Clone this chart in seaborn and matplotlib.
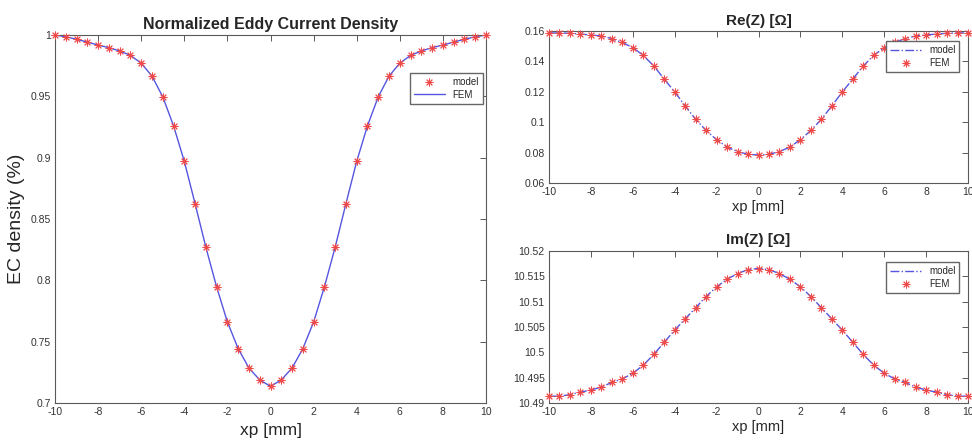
import numpy as np
import pandas as pd
import matplotlib
matplotlib.use("Agg")
import matplotlib.pyplot as plt
from matplotlib.ticker import FuncFormatter
import seaborn as sns

# ---------------- data ----------------
xp = [-10, -9.5, -9, -8.5, -8, -7.5, -7, -6.5, -6, -5.5, -5, -4.5, -4, -3.5, -3, -2.5, -2, -1.5, -1, -0.5,
      0, 0.5, 1, 1.5, 2, 2.5, 3, 3.5, 4, 4.5, 5, 5.5, 6, 6.5, 7, 7.5, 8, 8.5, 9, 9.5, 10]

ec_half = [1.0, 0.9986, 0.9965, 0.9943, 0.9918, 0.9897, 0.987, 0.9834, 0.977, 0.9665, 0.9496,
           0.926, 0.897, 0.8625, 0.827, 0.7946, 0.766, 0.7443, 0.7285, 0.7188]
ec_center = [0.7136]
ec_density = ec_half + ec_center + ec_half[::-1]

re_half = [0.1587, 0.1587, 0.1585, 0.158, 0.1574, 0.1567, 0.155, 0.1525, 0.149, 0.144, 0.137,
           0.1284, 0.1199, 0.1107, 0.1019, 0.0946, 0.0885, 0.0837, 0.0806, 0.0789]
re_center = [0.0784]
re_z = re_half + re_center + re_half[::-1]

im_half = [10.4914, 10.4914, 10.4917, 10.4922, 10.4926, 10.4932, 10.4941, 10.4948, 10.4959, 10.4975,
           10.4996, 10.502, 10.5044, 10.5066, 10.5088, 10.511, 10.5129, 10.5144, 10.5155, 10.5163]
im_center = [10.5165]
im_z = im_half + im_center + im_half[::-1]

xticks = [-10, -8, -6, -4, -2, 0, 2, 4, 6, 8, 10]
ec_ticks = [0.7, 0.75, 0.8, 0.85, 0.9, 0.95, 1.0]
re_ticks = [0.06, 0.08, 0.1, 0.12, 0.14, 0.16]
im_ticks = [10.49, 10.495, 10.5, 10.505, 10.51, 10.515, 10.52]

df = pd.DataFrame({"xp": xp, "ec": ec_density, "re": re_z, "im": im_z})

# ---------------- style ----------------
sns.set_style("white")
plt.rcParams["font.family"] = ["Liberation Sans", "DejaVu Sans"]

LINE_C = "#5555e0"
MARK_C = "#ee4a4a"
AX_C = "#5a5a5a"
ASTER = (8, 2, 0)
MS = 26
MLW = 0.7

fig = plt.figure(figsize=(9.72, 4.46), dpi=100)
ax1 = fig.add_axes([0.0566, 0.0964, 0.4434, 0.8251])
ax2 = fig.add_axes([0.5648, 0.5897, 0.4311, 0.3408])
ax3 = fig.add_axes([0.5648, 0.0957, 0.4311, 0.3421])

fmt = FuncFormatter(lambda v, p: f"{round(v, 6):g}")


def style_axes(ax, yticks):
    ax.set_xlim(-10, 10)
    ax.set_xticks(xticks)
    ax.set_yticks(yticks)
    ax.set_ylim(yticks[0], yticks[-1])
    ax.xaxis.set_major_formatter(fmt)
    ax.yaxis.set_major_formatter(fmt)
    ax.tick_params(direction="in", length=4, width=0.7, colors=AX_C, labelcolor="#333333",
                   labelsize=7.5, top=True, right=True, pad=3)
    for s in ax.spines.values():
        s.set_visible(True)
        s.set_color(AX_C)
        s.set_linewidth(0.8)


LEG = dict(fontsize=7, frameon=True, fancybox=False, edgecolor="#666666", framealpha=1,
           handlelength=3.2, borderpad=0.4, labelspacing=0.3, borderaxespad=0)

# ---- left: normalized eddy current density ----
sns.lineplot(data=df, x="xp", y="ec", ax=ax1, color=LINE_C, linewidth=1.0, label="FEM", zorder=2)
sns.scatterplot(data=df, x="xp", y="ec", ax=ax1, marker=ASTER, color=MARK_C, s=MS, linewidth=MLW,
                edgecolor=MARK_C, label="model", zorder=3, clip_on=False)
style_axes(ax1, ec_ticks)
ax1.set_title("Normalized Eddy Current Density", fontsize=11.5, fontweight="bold", pad=4.5)
ax1.set_xlabel("xp [mm]", fontsize=12.5, labelpad=4)
ax1.set_ylabel("EC density (%)", fontsize=14, labelpad=4)
h, l = ax1.get_legend_handles_labels()
ax1.legend([h[1], h[0]], [l[1], l[0]], loc="upper right", bbox_to_anchor=(0.993, 0.897), **LEG)

# ---- right top: Re(Z) ----
sns.lineplot(data=df, x="xp", y="re", ax=ax2, color=LINE_C, linewidth=1.0, linestyle="-.",
             label="model", zorder=2)
sns.scatterplot(data=df, x="xp", y="re", ax=ax2, marker=ASTER, color=MARK_C, s=MS, linewidth=MLW,
                edgecolor=MARK_C, label="FEM", zorder=3, clip_on=False)
style_axes(ax2, re_ticks)
ax2.set_title("Re(Z) [Ω]", fontsize=11, fontweight="bold", pad=4.5)
ax2.set_xlabel("xp [mm]", fontsize=10.5, labelpad=2)
ax2.set_ylabel("")
ax2.legend(loc="upper right", bbox_to_anchor=(0.979, 0.934), **LEG)

# ---- right bottom: Im(Z) ----
sns.lineplot(data=df, x="xp", y="im", ax=ax3, color=LINE_C, linewidth=1.0, linestyle="-.",
             label="model", zorder=2)
sns.scatterplot(data=df, x="xp", y="im", ax=ax3, marker=ASTER, color=MARK_C, s=MS, linewidth=MLW,
                edgecolor=MARK_C, label="FEM", zorder=3, clip_on=False)
style_axes(ax3, im_ticks)
ax3.set_title("Im(Z) [Ω]", fontsize=11, fontweight="bold", pad=4.5)
ax3.set_xlabel("xp [mm]", fontsize=10.5, labelpad=2)
ax3.set_ylabel("")
ax3.legend(loc="upper right", bbox_to_anchor=(0.979, 0.925), **LEG)

fig.savefig("out.png", dpi=100, facecolor="white")
